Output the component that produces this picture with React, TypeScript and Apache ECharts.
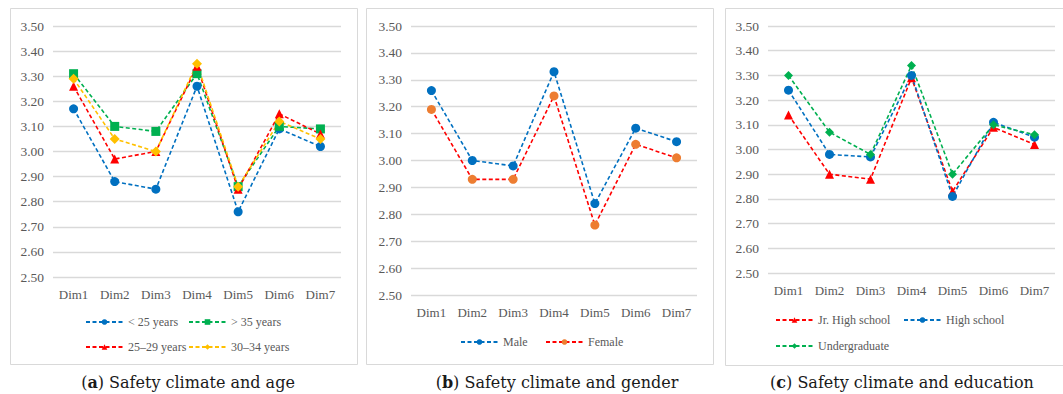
import React, { useEffect, useRef } from "react";
import * as echarts from "echarts";

const categories = ["Dim1", "Dim2", "Dim3", "Dim4", "Dim5", "Dim6", "Dim7"];

// Panel (a) Safety climate and age
const ageUnder25 = [3.17, 2.88, 2.85, 3.26, 2.76, 3.09, 3.02];
const ageOver35 = [3.31, 3.1, 3.08, 3.31, 2.86, 3.1, 3.09];
const age25to29 = [3.26, 2.97, 3.0, 3.34, 2.85, 3.15, 3.07];
const age30to34 = [3.29, 3.05, 3.0, 3.35, 2.86, 3.12, 3.05];

// Panel (b) Safety climate and gender
const male = [3.26, 3.0, 2.98, 3.33, 2.84, 3.12, 3.07];
const female = [3.19, 2.93, 2.93, 3.24, 2.76, 3.06, 3.01];

// Panel (c) Safety climate and education
const jrHigh = [3.14, 2.9, 2.88, 3.29, 2.83, 3.09, 3.02];
const highSchool = [3.24, 2.98, 2.97, 3.3, 2.81, 3.11, 3.05];
const undergrad = [3.3, 3.07, 2.98, 3.34, 2.9, 3.1, 3.06];

const yMin = 2.5;
const yMax = 3.5;
const yStep = 0.1;

const captions = [
  { letter: "a", rest: " Safety climate and age" },
  { letter: "b", rest: " Safety climate and gender" },
  { letter: "c", rest: " Safety climate and education" },
];

const BLUE = "#0070C0";
const GREEN = "#00B050";
const RED = "#FF0000";
const YELLOW = "#FFC000";
const ORANGE = "#ED7D31";
const GRID = "#D9D9D9";
const TEXT = "#595959";
const SERIF = "'Liberation Serif', 'Times New Roman', Times, serif";

export default function App() {
  const ref = useRef<HTMLDivElement>(null);

  useEffect(() => {
    if (!ref.current) return;
    const chart = echarts.init(ref.current, undefined, { renderer: "svg" });

    const grids = [
      { left: 53, top: 26, width: 288, height: 251 },
      { left: 411, top: 26, width: 286, height: 269 },
      { left: 768, top: 26, width: 287, height: 247 },
    ];

    const xAxes = grids.map((_, i) => ({
      type: "category",
      gridIndex: i,
      data: categories,
      boundaryGap: true,
      axisLine: { show: false },
      axisTick: { show: false },
      axisLabel: { color: TEXT, fontFamily: SERIF, fontSize: 13, margin: 11 },
      splitLine: { show: false },
    }));

    const yAxes = grids.map((_, i) => ({
      type: "value",
      gridIndex: i,
      min: yMin,
      max: yMax,
      interval: yStep,
      axisLine: { show: false },
      axisTick: { show: false },
      axisLabel: {
        color: TEXT,
        fontFamily: SERIF,
        fontSize: 13.5,
        margin: 9,
        formatter: (v: number) => v.toFixed(2),
      },
      splitLine: { show: true, lineStyle: { color: GRID, width: 1.3 } },
    }));

    const mk = (
      name: string,
      data: number[],
      idx: number,
      lineColor: string,
      markerColor: string,
      symbol: string,
      size: number
    ) => ({
      name,
      type: "line",
      xAxisIndex: idx,
      yAxisIndex: idx,
      data,
      symbol,
      symbolSize: size,
      lineStyle: { color: lineColor, width: 1.6, type: [4, 2.5] },
      itemStyle: { color: markerColor, borderWidth: 0 },
      emphasis: { disabled: true },
    });

    const series = [
      mk("< 25 years", ageUnder25, 0, BLUE, BLUE, "circle", 9),
      mk("> 35 years", ageOver35, 0, GREEN, GREEN, "rect", 9),
      mk("25–29 years", age25to29, 0, RED, RED, "triangle", 9),
      mk("30–34 years", age30to34, 0, YELLOW, YELLOW, "diamond", 10),
      mk("Male", male, 1, BLUE, BLUE, "circle", 9),
      mk("Female", female, 1, RED, ORANGE, "circle", 9),
      mk("Jr. High school", jrHigh, 2, RED, RED, "triangle", 9),
      mk("High school", highSchool, 2, BLUE, BLUE, "circle", 9),
      mk("Undergraduate", undergrad, 2, GREEN, GREEN, "diamond", 9),
    ];

    const leg = (name: string, left: number, cy: number) => ({
      data: [name],
      left,
      top: cy - 7,
      padding: 0,
      itemWidth: 37,
      itemHeight: 7,
      selectedMode: false,
      textStyle: { color: TEXT, fontFamily: SERIF, fontSize: 12 },
    });

    const legends = [
      leg("< 25 years", 85, 323),
      leg("> 35 years", 188, 323),
      leg("25–29 years", 85, 348),
      leg("30–34 years", 188, 348),
      leg("Male", 460, 343),
      leg("Female", 545, 343),
      leg("Jr. High school", 775, 321),
      leg("High school", 903, 321),
      leg("Undergraduate", 775, 347),
    ];

    const boxes = [
      { x: 10, y: 8, w: 347, h: 356 },
      { x: 366, y: 8, w: 347, h: 356 },
      { x: 725, y: 8, w: 345, h: 357 },
    ];
    const capX = [188, 557, 902];

    const graphic: any[] = [];
    boxes.forEach((b) =>
      graphic.push({
        type: "rect",
        silent: true,
        z: -10,
        shape: { x: b.x + 0.5, y: b.y + 0.5, width: b.w, height: b.h },
        style: { fill: "#fff", stroke: GRID, lineWidth: 1 },
      })
    );
    captions.forEach((c, i) =>
      graphic.push({
        type: "text",
        silent: true,
        x: capX[i],
        y: 382,
        style: {
          text: `{n|(}{b|${c.letter}}{n|)${c.rest}}`,
          align: "center",
          verticalAlign: "middle",
          rich: {
            n: { fontFamily: "DejaVu Serif", fontSize: 16, fill: "#1a1a1a" },
            b: { fontFamily: "DejaVu Serif", fontSize: 16, fontWeight: "bold", fill: "#1a1a1a" },
          },
        },
      })
    );

    chart.setOption({
      animation: false,
      backgroundColor: "#fff",
      grid: grids,
      xAxis: xAxes,
      yAxis: yAxes,
      legend: legends,
      series,
      graphic,
    });

    return () => chart.dispose();
  }, []);

  return (
    <div
      ref={ref}
      style={{ position: "absolute", left: 0, top: 0, width: 1063, height: 394, background: "#fff" }}
    />
  );
}
